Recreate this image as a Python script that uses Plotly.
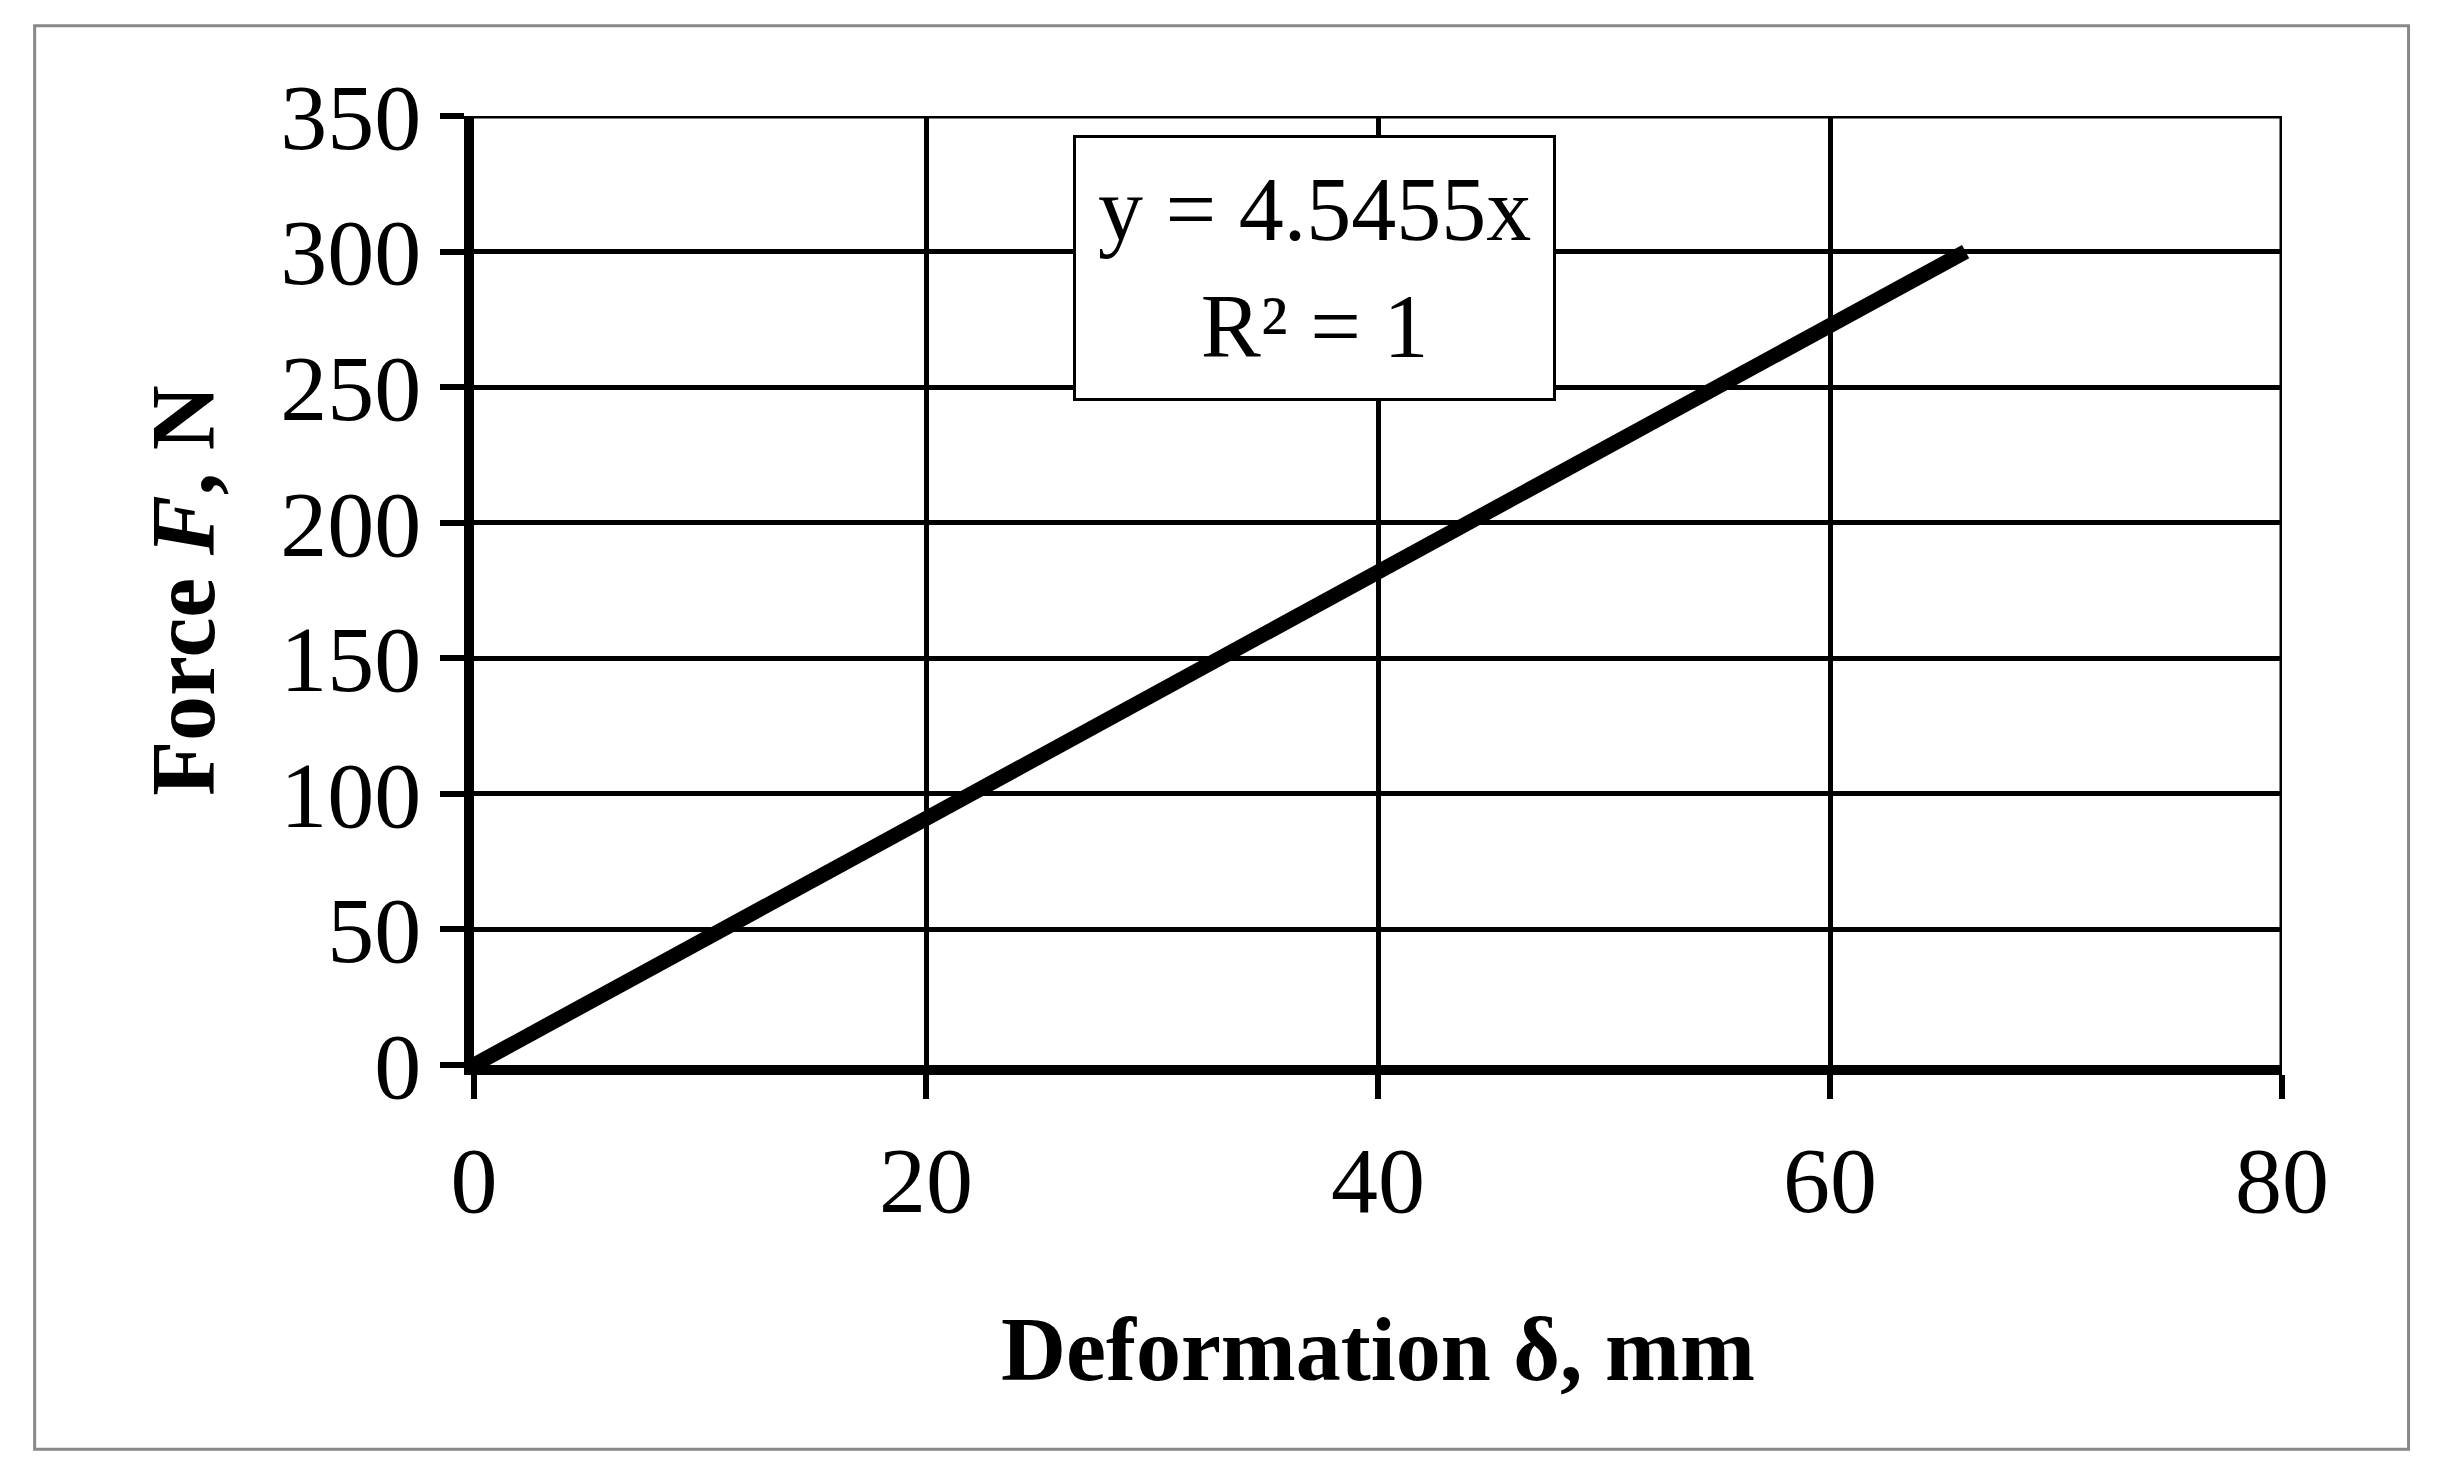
import plotly.graph_objects as go

deformation = [0, 66]
force = [0, 300]
x_ticks = [0, 20, 40, 60, 80]
y_ticks = [0, 50, 100, 150, 200, 250, 300, 350]

serif = "Liberation Serif, Times New Roman, serif"

fig = go.Figure()
fig.add_trace(go.Scatter(x=deformation, y=force, mode="lines",
                         line=dict(color="black", width=15), showlegend=False))

fig.update_xaxes(range=[0, 80], tickvals=x_ticks, showgrid=True, gridcolor="black",
                 gridwidth=5, zeroline=False, showline=True, linecolor="black",
                 linewidth=10, ticks="outside", ticklen=24, tickwidth=6, tickcolor="black",
                 tickfont=dict(family=serif, size=94, color="black"),
                 title=dict(text="<b>Deformation δ, mm</b>", standoff=90,
                            font=dict(family=serif, size=90, color="black")),
                 mirror=False)
fig.update_yaxes(range=[0, 350], tickvals=y_ticks, showgrid=True, gridcolor="black",
                 gridwidth=5, zeroline=False, showline=True, linecolor="black",
                 linewidth=10, ticks="outside", ticklen=24, tickwidth=6, tickcolor="black",
                 tickfont=dict(family=serif, size=94, color="black"),
                 title=dict(text="<b>Force <i>F</i>, N</b>", standoff=40,
                            font=dict(family=serif, size=90, color="black")))

# right and top border of plot area
fig.add_shape(type="line", xref="x", yref="paper", x0=80, x1=80, y0=0, y1=1,
              line=dict(color="black", width=5))
fig.add_shape(type="line", xref="paper", yref="y", x0=0, x1=1, y0=350, y1=350,
              line=dict(color="black", width=5))

fig.add_annotation(x=37.2, y=294, xref="x", yref="y",
                   text="y = 4.5455x<br>R² = 1", showarrow=False, align="center",
                   font=dict(family=serif, size=90, color="black"),
                   bgcolor="white", bordercolor="black", borderwidth=3, borderpad=22)

# outer chart border
fig.add_shape(type="rect", xref="paper", yref="paper", x0=-0.243, x1=1.07,
              y0=-0.405, y1=1.095, line=dict(color="#888888", width=3))

fig.update_layout(width=2437, height=1477, plot_bgcolor="white", paper_bgcolor="white",
                  margin=dict(l=466, r=163, t=108, b=420))

fig.write_html("out.html")
